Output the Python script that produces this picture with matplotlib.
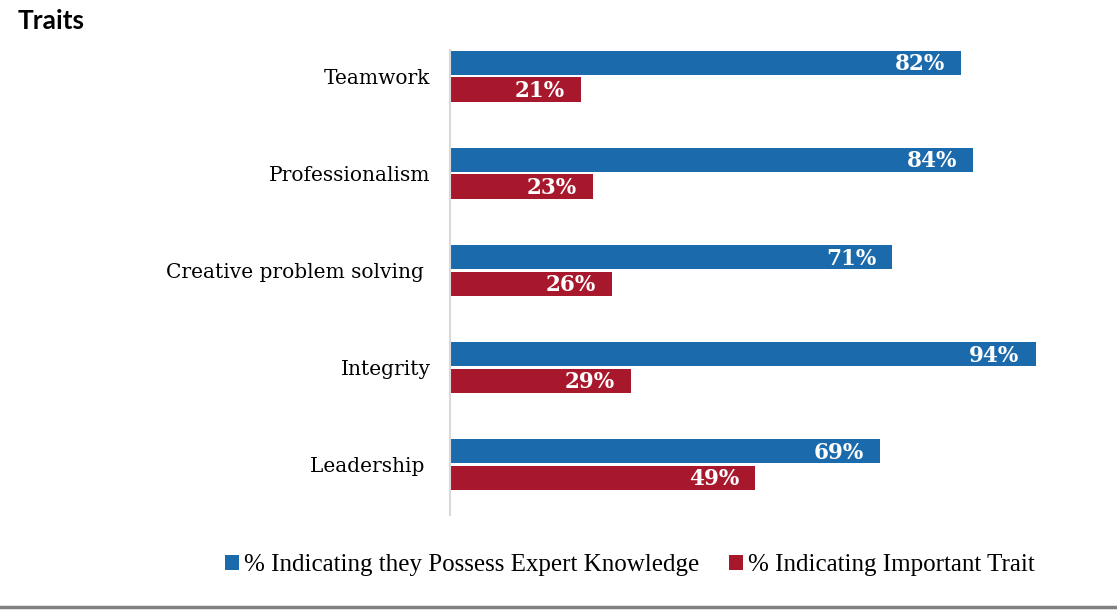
import matplotlib
matplotlib.use('Agg')
import matplotlib.pyplot as plt
import matplotlib.lines as mlines
import numpy as np

traits = ['Teamwork', 'Professionalism', 'Creative problem solving ', 'Integrity', 'Leadership ']
expert = [82, 84, 71, 94, 69]
important = [21, 23, 26, 29, 49]
series_names = ['% Indicating they Possess Expert Knowledge', '% Indicating Important Trait']

blue = '#1B6AAC'
red = '#A8182D'

fig = plt.figure(figsize=(11.17, 6.10), dpi=100)
ax = fig.add_axes([0.4029, 0.1557, 0.5577, 0.7623])

y = np.arange(len(traits))[::-1]
h = 0.25
off = 0.137
b1 = ax.barh(y + off, expert, height=h, color=blue, label=series_names[0])
b2 = ax.barh(y - off, important, height=h, color=red, label=series_names[1])

for bars, vals in [(b1, expert), (b2, important)]:
    for rect, v in zip(bars, vals):
        ax.text(v - 2.6, rect.get_y() + rect.get_height() / 2 - 0.015, f'{v}%',
                ha='right', va='center', color='white', fontsize=15.5,
                fontweight='bold', family='DejaVu Serif')

ax.set_xlim(0, 100)
ax.set_ylim(-0.52, 4.27)
ax.set_yticks(y)
ax.set_yticklabels(traits, family='DejaVu Serif', fontsize=14.5)
ax.tick_params(axis='y', length=0, pad=14)
ax.set_xticks([])
for s in ['top', 'right', 'bottom']:
    ax.spines[s].set_visible(False)
ax.spines['left'].set_color('#D9D9D9')
ax.spines['left'].set_linewidth(1.5)

fig.text(0.016, 0.965, 'Traits', fontsize=19, fontweight='bold', family='Lato', va='center')

leg = fig.legend(handles=[b1, b2], loc='center', bbox_to_anchor=(0.564, 0.073), ncol=2,
                 frameon=False, handlelength=0.55, handleheight=0.55, handletextpad=0.2,
                 columnspacing=1.2, prop={'family': 'Liberation Serif', 'size': 18})

fig.add_artist(mlines.Line2D([0, 1], [0.005, 0.005], color='#808080', linewidth=2.5,
                             transform=fig.transFigure))

fig.savefig('out.png', dpi=100)
